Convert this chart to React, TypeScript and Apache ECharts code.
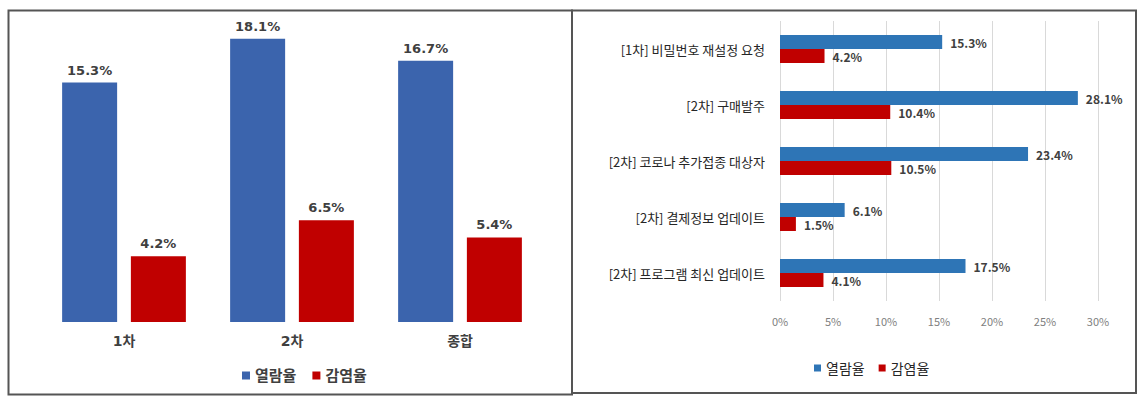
import React, { useEffect, useRef } from "react";
import * as echarts from "echarts";

const leftCategories = ["1차", "2차", "종합"];
const leftOpen = [15.3, 18.1, 16.7];
const leftInfect = [4.2, 6.5, 5.4];

const rightCategories = [
  "[1차] 비밀번호 재설정 요청",
  "[2차] 구매발주",
  "[2차] 코로나 추가접종 대상자",
  "[2차] 결제정보 업데이트",
  "[2차] 프로그램 최신 업데이트",
];
const rightOpen = [15.3, 28.1, 23.4, 6.1, 17.5];
const rightInfect = [4.2, 10.4, 10.5, 1.5, 4.1];

const seriesNames = ["열람율", "감염율"];
const xTicksMax = 30;
const xTickStep = 5;

const LEFT_FONT = "'DejaVu Sans', 'Noto Sans CJK KR', sans-serif";
const RIGHT_FONT = "'Noto Sans CJK KR', 'Noto Sans', sans-serif";

export default function App() {
  const ref = useRef<HTMLDivElement>(null);

  useEffect(() => {
    document.body.style.margin = "0";
    if (!ref.current) return;
    const chart = echarts.init(ref.current, undefined, { renderer: "svg" });
    const fmt = (p: any) => `${p.value}%`;
    chart.setOption({
      animation: false,
      backgroundColor: "#ffffff",
      grid: [
        { left: 40, top: 9, width: 504, height: 313 },
        { left: 780, top: 21, width: 318, height: 280 },
      ],
      xAxis: [
        {
          type: "category",
          gridIndex: 0,
          data: leftCategories,
          axisLine: { show: false },
          axisTick: { show: false },
          axisLabel: {
            margin: 12,
            fontSize: 14,
            fontWeight: "bold",
            color: "#404040",
            fontFamily: LEFT_FONT,
          },
        },
        {
          type: "value",
          gridIndex: 1,
          min: 0,
          max: xTicksMax,
          interval: xTickStep,
          axisLine: { show: false },
          axisTick: { show: false },
          splitLine: { show: true, lineStyle: { color: "#d9d9d9", width: 1 } },
          axisLabel: {
            formatter: "{value}%",
            margin: 14,
            fontSize: 11,
            color: "#808080",
            fontFamily: RIGHT_FONT,
          },
        },
      ],
      yAxis: [
        { type: "value", gridIndex: 0, min: 0, max: 20, show: false },
        {
          type: "category",
          gridIndex: 1,
          inverse: true,
          data: rightCategories,
          axisLine: { show: false },
          axisTick: { show: false },
          axisLabel: {
            margin: 15,
            fontSize: 13,
            color: "#262626",
            fontFamily: RIGHT_FONT,
          },
        },
      ],
      legend: [
        {
          left: 237,
          top: 363,
          itemWidth: 8,
          itemHeight: 8,
          itemGap: 16,
          icon: "rect",
          textStyle: { fontSize: 15, fontWeight: "bold", color: "#404040", fontFamily: LEFT_FONT },
          data: [
            { name: seriesNames[0], itemStyle: { color: "#3b64ad" } },
            { name: seriesNames[1], itemStyle: { color: "#c00000" } },
          ],
          selectedMode: false,
        },
        {
          left: 809,
          top: 356,
          itemWidth: 7,
          itemHeight: 7,
          itemGap: 14,
          icon: "rect",
          textStyle: { fontSize: 14, color: "#262626", fontFamily: RIGHT_FONT },
          data: [
            { name: seriesNames[0], itemStyle: { color: "#2e75b6" } },
            { name: seriesNames[1], itemStyle: { color: "#c00000" } },
          ],
          selectedMode: false,
        },
      ],
      series: [
        {
          name: seriesNames[0],
          type: "bar",
          xAxisIndex: 0,
          yAxisIndex: 0,
          data: leftOpen,
          barWidth: 55,
          barGap: "25%",
          itemStyle: { color: "#3b64ad" },
          label: {
            show: true,
            position: "top",
            distance: 6,
            formatter: fmt,
            fontSize: 13,
            fontWeight: "bold",
            color: "#404040",
            fontFamily: LEFT_FONT,
          },
        },
        {
          name: seriesNames[1],
          type: "bar",
          xAxisIndex: 0,
          yAxisIndex: 0,
          data: leftInfect,
          barWidth: 55,
          barGap: "25%",
          itemStyle: { color: "#c00000" },
          label: {
            show: true,
            position: "top",
            distance: 6,
            formatter: fmt,
            fontSize: 13,
            fontWeight: "bold",
            color: "#404040",
            fontFamily: LEFT_FONT,
          },
        },
        {
          name: seriesNames[0],
          type: "bar",
          xAxisIndex: 1,
          yAxisIndex: 1,
          data: rightOpen,
          barWidth: 14,
          barGap: "0%",
          itemStyle: { color: "#2e75b6" },
          label: {
            show: true,
            position: "right",
            distance: 8,
            formatter: fmt,
            fontSize: 12,
            fontWeight: "bold",
            color: "#404040",
            fontFamily: RIGHT_FONT,
          },
        },
        {
          name: seriesNames[1],
          type: "bar",
          xAxisIndex: 1,
          yAxisIndex: 1,
          data: rightInfect,
          barWidth: 14,
          barGap: "0%",
          itemStyle: { color: "#c00000" },
          label: {
            show: true,
            position: "right",
            distance: 8,
            formatter: fmt,
            fontSize: 12,
            fontWeight: "bold",
            color: "#404040",
            fontFamily: RIGHT_FONT,
          },
        },
      ],
      graphic: [
        {
          type: "rect",
          shape: { x: 8.5, y: 10.5, width: 563.5, height: 384 },
          style: { fill: "none", stroke: "#555555", lineWidth: 2 },
          silent: true,
        },
        {
          type: "rect",
          shape: { x: 572, y: 10.5, width: 564, height: 382.5 },
          style: { fill: "none", stroke: "#555555", lineWidth: 2 },
          silent: true,
        },
      ],
    });
    return () => chart.dispose();
  }, []);

  return <div ref={ref} style={{ width: 1144, height: 401 }} />;
}
